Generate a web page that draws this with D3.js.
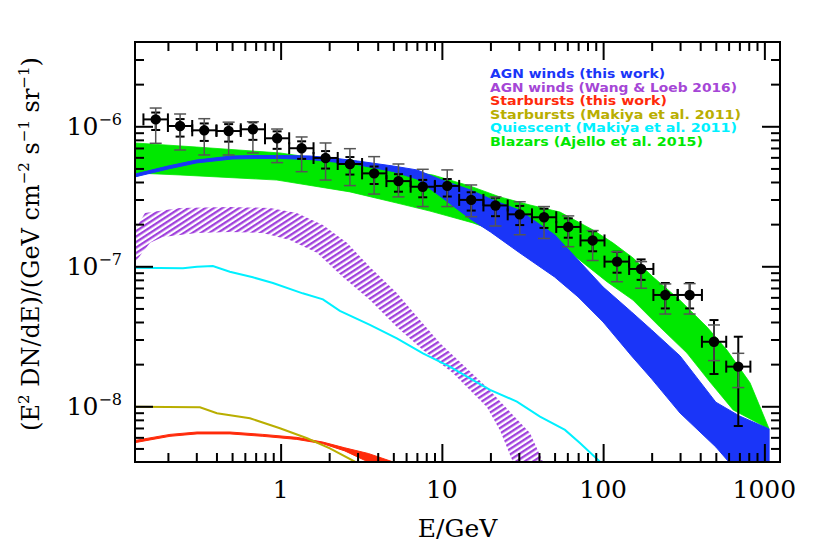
<!DOCTYPE html>
<html lang="en">
<head>
    <meta charset="utf-8" />
    <title>EGB components</title>
    <script src="https://cdn.jsdelivr.net/npm/d3@7"></script>
    <style>body { margin: 0; background: #fff; }</style>
</head>
<body>
<svg width="817" height="552"></svg>
<script>
    // Fermi IGRB data points (GeV, GeV cm^-2 s^-1 sr^-1)
    var dataE = [0.168, 0.238, 0.336, 0.476, 0.673, 0.951, 1.35, 1.90, 2.69, 3.80, 5.38, 7.61, 10.8, 15.2, 21.5, 30.4, 43.0, 60.8, 86.1, 122, 172, 243, 344, 487, 689];
    var binEdges = [0.141, 0.2, 0.283, 0.4, 0.566, 0.8, 1.13, 1.6, 2.26, 3.2, 4.53, 6.4, 9.05, 12.8, 18.1, 25.6, 36.2, 51.2, 72.4, 102, 145, 205, 290, 410, 580, 819];
    var dataF = [1.12e-6, 1.005e-6, 9.36e-7, 9.25e-7, 9.52e-7, 8.21e-7, 6.97e-7, 5.94e-7, 5.38e-7, 4.61e-7, 4.06e-7, 3.70e-7, 3.75e-7, 2.98e-7, 2.72e-7, 2.35e-7, 2.24e-7, 1.91e-7, 1.53e-7, 1.08e-7, 9.57e-8, 6.24e-8, 6.24e-8, 2.89e-8, 1.92e-8];
    var statLo = [9.41e-7, 8.44e-7, 7.86e-7, 7.77e-7, 8.0e-7, 6.9e-7, 5.85e-7, 4.99e-7, 4.52e-7, 3.87e-7, 3.41e-7, 3.11e-7, 3.15e-7, 2.5e-7, 2.28e-7, 1.97e-7, 1.88e-7, 1.6e-7, 1.28e-7, 0.90e-7, 0.80e-7, 0.50e-7, 0.50e-7, 1.70e-8, 7.23e-9];
    var statHi = [1.254e-6, 1.126e-6, 1.048e-6, 1.036e-6, 1.066e-6, 9.2e-7, 7.81e-7, 6.65e-7, 6.03e-7, 5.16e-7, 4.55e-7, 4.14e-7, 4.2e-7, 3.38e-7, 3.09e-7, 2.7e-7, 2.58e-7, 2.2e-7, 1.78e-7, 1.27e-7, 1.12e-7, 7.6e-8, 7.6e-8, 4.13e-8, 3.14e-8];
    var sysLo = [7.56e-7, 6.77e-7, 6.24e-7, 6.24e-7, 6.45e-7, 5.50e-7, 4.74e-7, 4.13e-7, 3.77e-7, 3.28e-7, 3.13e-7, 2.67e-7, 2.67e-7, 2.26e-7, 1.94e-7, 1.68e-7, 1.58e-7, 1.38e-7, 1.10e-7, 7.76e-8, 6.97e-8, 4.56e-8, 4.56e-8, 2.12e-8, 1.36e-8];
    var sysHi = [1.35e-6, 1.224e-6, 1.133e-6, 1.07e-6, 1.078e-6, 9.56e-7, 8.39e-7, 7.60e-7, 6.92e-7, 6.07e-7, 5.38e-7, 4.93e-7, 4.88e-7, 3.81e-7, 3.13e-7, 2.89e-7, 2.67e-7, 2.29e-7, 1.80e-7, 1.27e-7, 1.08e-7, 7.48e-8, 7.52e-8, 3.81e-8, 2.39e-8];

    // AGN winds (this work) band
    var agnE = [0.125, 0.2, 0.3, 0.5, 0.7, 1, 1.5, 2, 3, 5, 7, 10, 15, 20, 30, 50, 70, 100, 150, 200, 300, 500, 700, 1070];
    var agnHi = [4.56e-7, 5.20e-7, 5.74e-7, 6.14e-7, 6.18e-7, 6.18e-7, 6.14e-7, 5.98e-7, 5.65e-7, 5.20e-7, 4.88e-7, 4.13e-7, 3.51e-7, 3.03e-7, 2.52e-7, 1.68e-7, 1.11e-7, 7.11e-8, 4.72e-8, 3.51e-8, 2.29e-8, 1.07e-8, 8.53e-9, 6.89e-9];
    var agnLo = [4.35e-7, 4.95e-7, 5.47e-7, 5.84e-7, 5.89e-7, 5.89e-7, 5.79e-7, 5.61e-7, 5.32e-7, 4.75e-7, 4.20e-7, 3.10e-7, 2.18e-7, 1.76e-7, 1.26e-7, 8.39e-8, 6.04e-8, 4.00e-8, 2.29e-8, 1.57e-8, 8.95e-9, 5.12e-9, 3.28e-9, 2.52e-9];

    // AGN winds (Wang & Loeb 2016) band
    var wlHiE = [0.125, 0.144, 0.237, 0.485, 0.859, 1.26, 1.83, 2.58, 3.58, 5.26, 7.31, 9.72, 19.0, 35.2, 42.4, 50];
    var wlHi = [1.81e-7, 2.40e-7, 2.61e-7, 2.65e-7, 2.61e-7, 2.40e-7, 1.97e-7, 1.47e-7, 9.88e-8, 6.44e-8, 4.13e-8, 2.83e-8, 1.37e-8, 6.44e-9, 4.0e-9, 2.5e-9];
    var wlLoE = [0.125, 0.155, 0.186, 0.303, 0.485, 0.776, 1.14, 1.68, 2.43, 3.58, 5.26, 7.63, 11.7, 19.0, 22.9, 27.6, 32];
    var wlLo = [1.07e-7, 1.47e-7, 1.62e-7, 1.73e-7, 1.76e-7, 1.73e-7, 1.54e-7, 1.25e-7, 8.39e-8, 5.74e-8, 3.68e-8, 2.52e-8, 1.73e-8, 9.88e-9, 6.73e-9, 4.0e-9, 2.5e-9];

    // Starbursts (this work) band
    var sbE = [0.125, 0.206, 0.303, 0.485, 0.776, 1.26, 1.83, 2.5, 3.5, 5.0];
    var sbHi = [5.7e-9, 6.3e-9, 6.55e-9, 6.55e-9, 6.3e-9, 6.0e-9, 5.55e-9, 5.05e-9, 4.6e-9, 4.0e-9];
    var sbLo = [5.5e-9, 6.1e-9, 6.35e-9, 6.35e-9, 6.1e-9, 5.8e-9, 5.4e-9, 4.8e-9, 4.0e-9, 3.0e-9];

    // Starbursts (Makiya et al. 2011)
    var sbmE = [0.125, 0.316, 0.403, 0.645, 0.99, 1.46, 2.02, 2.89];
    var sbmF = [9.93e-9, 9.84e-9, 8.91e-9, 8.21e-9, 6.97e-9, 5.91e-9, 5.01e-9, 4.02e-9];

    // Quiescent (Makiya et al. 2011)
    var qE = [0.125, 0.248, 0.303, 0.380, 0.484, 0.673, 0.896, 1.37, 1.83, 2.33, 3.58, 5.26, 7.63, 11.2, 15.6, 19.9, 29.2, 40.6, 58.0, 71.8, 95.5];
    var qF = [9.77e-8, 9.68e-8, 9.93e-8, 1.005e-7, 9.14e-8, 8.34e-8, 7.60e-8, 6.41e-8, 5.81e-8, 4.80e-8, 3.81e-8, 3.06e-8, 2.39e-8, 1.92e-8, 1.54e-8, 1.31e-8, 1.08e-8, 8.43e-9, 6.78e-9, 5.47e-9, 4.02e-9];

    // Blazars (Ajello et al. 2015) band
    var blzHiE = [0.125, 0.3, 0.99, 2.69, 5.49, 8.79, 14.9, 22.9, 35.2, 54.0, 86.4, 115, 153, 204, 299, 441, 586, 815, 1070];
    var blzHi = [7.60e-7, 7.11e-7, 6.45e-7, 5.47e-7, 4.88e-7, 4.49e-7, 3.75e-7, 3.13e-7, 2.74e-7, 2.44e-7, 1.82e-7, 1.47e-7, 1.15e-7, 8.39e-8, 5.74e-8, 3.68e-8, 2.52e-8, 1.47e-8, 6.89e-9];
    var blzLoE = [0.125, 0.238, 0.948, 2.69, 5.26, 8.43, 15.6, 30.5, 65.0, 106, 153, 225, 331, 460, 640, 1070];
    var blzLo = [4.64e-7, 4.49e-7, 4.13e-7, 3.40e-7, 2.83e-7, 2.48e-7, 2.04e-7, 1.54e-7, 1.21e-7, 7.73e-8, 5.74e-8, 3.68e-8, 2.40e-8, 1.49e-8, 9.42e-9, 6.89e-9];

    var xMajor = [1, 10, 100, 1000];
    var xLabels = ["1", "10", "100", "1000"];
    var yMajor = [1e-8, 1e-7, 1e-6];
    var yLabels = ["\u22128", "\u22127", "\u22126"];

    var legendNames = ["AGN winds (this work)", "AGN winds (Wang & Loeb 2016)", "Starbursts (this work)",
        "Starbursts (Makiya et al. 2011)", "Quiescent (Makiya et al. 2011)", "Blazars (Ajello et al. 2015)"];
    var legendColors = ["#1a35f8", "#a546d6", "#ff2a0a", "#b9ae00", "#00f0ff", "#00e800"];

    var svg = d3.select("svg");
    var pLeft = 135, pRight = 780, pTop = 42, pBottom = 462;

    var x = d3.scaleLog().domain([0.125, 1250]).range([pLeft, pRight]);
    var y = d3.scaleLog().domain([4e-9, 4e-6]).range([pBottom, pTop]);

    var defs = svg.append("defs");
    defs.append("clipPath").attr("id", "plot")
        .append("rect").attr("x", pLeft).attr("y", pTop)
        .attr("width", pRight - pLeft).attr("height", pBottom - pTop);

    // diagonal hatching for the Wang & Loeb band
    var hatch = defs.append("pattern").attr("id", "hatch")
        .attr("patternUnits", "userSpaceOnUse")
        .attr("width", 10).attr("height", 4.6)
        .attr("patternTransform", "rotate(-33)");
    hatch.append("rect").attr("width", 10).attr("height", 2.3).attr("fill", "#a040dc");

    var g = svg.append("g").attr("clip-path", "url(#plot)");

    var line = d3.line().x(function (d) { return x(d[0]); }).y(function (d) { return y(d[1]); });

    // closed polygon from an upper and a lower edge
    function band(hiE, hi, loE, lo) {
        var pts = hiE.map(function (e, i) { return [e, hi[i]]; });
        var back = loE.map(function (e, i) { return [e, lo[i]]; }).reverse();
        return line(pts.concat(back)) + "Z";
    }
    function pairs(e, f) {
        return e.map(function (v, i) { return [v, f[i]]; });
    }

    // blazars
    g.append("path").attr("d", band(blzHiE, blzHi, blzLoE, blzLo))
        .attr("fill", legendColors[5]).attr("stroke", legendColors[5]).attr("stroke-width", 0.8);
    // AGN winds (this work)
    g.append("path").attr("d", band(agnE, agnHi, agnE, agnLo))
        .attr("fill", legendColors[0]).attr("stroke", legendColors[0]).attr("stroke-width", 1);
    // Wang & Loeb hatched band
    g.append("path").attr("d", band(wlHiE, wlHi, wlLoE, wlLo))
        .attr("fill", "url(#hatch)");
    // quiescent
    g.append("path").attr("d", line(pairs(qE, qF)))
        .attr("fill", "none").attr("stroke", legendColors[4]).attr("stroke-width", 2);
    // starbursts this work
    g.append("path").attr("d", band(sbE, sbHi, sbE, sbLo))
        .attr("fill", legendColors[2]).attr("stroke", legendColors[2]).attr("stroke-width", 1);
    // starbursts Makiya
    g.append("path").attr("d", line(pairs(sbmE, sbmF)))
        .attr("fill", "none").attr("stroke", legendColors[3]).attr("stroke-width", 2);

    // data points
    var pts = svg.append("g").attr("clip-path", "url(#plot)");
    dataE.forEach(function (e, i) {
        var cx = x(e), cy = y(dataF[i]);
        // statistical (black)
        pts.append("line").attr("x1", cx).attr("x2", cx).attr("y1", y(statLo[i])).attr("y2", y(statHi[i]))
            .attr("stroke", "#000").attr("stroke-width", 2);
        [statLo[i], statHi[i]].forEach(function (v) {
            pts.append("line").attr("x1", cx - 4.5).attr("x2", cx + 4.5).attr("y1", y(v)).attr("y2", y(v))
                .attr("stroke", "#000").attr("stroke-width", 2);
        });
        // systematic (grey)
        pts.append("line").attr("x1", cx).attr("x2", cx).attr("y1", y(sysLo[i])).attr("y2", y(sysHi[i]))
            .attr("stroke", "#555").attr("stroke-width", 1.5);
        [sysLo[i], sysHi[i]].forEach(function (v) {
            pts.append("line").attr("x1", cx - 6).attr("x2", cx + 6).attr("y1", y(v)).attr("y2", y(v))
                .attr("stroke", "#555").attr("stroke-width", 1.5);
        });
        // energy bin
        var x0 = x(binEdges[i]), x1 = x(binEdges[i + 1]);
        pts.append("line").attr("x1", x0).attr("x2", x1).attr("y1", cy).attr("y2", cy)
            .attr("stroke", "#000").attr("stroke-width", 2);
        [x0, x1].forEach(function (xx) {
            pts.append("line").attr("x1", xx).attr("x2", xx).attr("y1", cy - 6).attr("y2", cy + 6)
                .attr("stroke", "#000").attr("stroke-width", 2);
        });
        pts.append("circle").attr("cx", cx).attr("cy", cy).attr("r", 5.2).attr("fill", "#000");
    });

    // axes: ticks point inward on all four sides
    var xMinor = x.ticks().filter(function (v) { return xMajor.indexOf(v) < 0; });
    var yMinor = y.ticks().filter(function (v) { return yMajor.indexOf(v) < 0 && v > 4.01e-9 && v < 3.99e-6; });

    function drawAxis(axis, tx, ty) {
        var a = svg.append("g").attr("transform", "translate(" + tx + "," + ty + ")").call(axis);
        a.select(".domain").remove();
        a.selectAll("line").attr("stroke-width", 2);
        a.selectAll("text").remove();
    }
    [[xMajor, 18], [xMinor, 9]].forEach(function (t) {
        drawAxis(d3.axisBottom(x).tickValues(t[0]).tickSize(-t[1]), 0, pBottom);
        drawAxis(d3.axisTop(x).tickValues(t[0]).tickSize(-t[1]), 0, pTop);
    });
    [[yMajor, 18], [yMinor, 9]].forEach(function (t) {
        drawAxis(d3.axisLeft(y).tickValues(t[0]).tickSize(-t[1]), pLeft, 0);
        drawAxis(d3.axisRight(y).tickValues(t[0]).tickSize(-t[1]), pRight, 0);
    });

    svg.append("rect").attr("x", pLeft).attr("y", pTop)
        .attr("width", pRight - pLeft).attr("height", pBottom - pTop)
        .attr("fill", "none").attr("stroke", "#000").attr("stroke-width", 2);

    var serif = "'DejaVu Serif', serif";

    // tick labels
    svg.selectAll(".xl").data(xMajor).enter().append("text")
        .attr("x", function (d) { return x(d); }).attr("y", 498)
        .attr("text-anchor", "middle").attr("font-family", serif).attr("font-size", 25)
        .text(function (d, i) { return xLabels[i]; });

    yMajor.forEach(function (v, i) {
        var t = svg.append("text").attr("x", 122).attr("y", y(v) + 9)
            .attr("text-anchor", "end").attr("font-family", serif).attr("font-size", 25);
        t.append("tspan").text("10");
        t.append("tspan").attr("dy", -10).attr("font-size", 16).text(yLabels[i]);
    });

    // axis titles
    svg.append("text").attr("x", (pLeft + pRight) / 2).attr("y", 537)
        .attr("text-anchor", "middle").attr("font-family", serif).attr("font-size", 25)
        .text("E/GeV");

    var yt = svg.append("text").attr("transform", "translate(39,244) rotate(-90)")
        .attr("text-anchor", "middle").attr("font-family", serif).attr("font-size", 24);
    var parts = [["(E", 0], ["2", 1], [" DN/dE)/(GeV cm", 0], ["\u22122", 1], [" s", 0], ["\u22121", 1], [" sr", 0], ["\u22121", 1], [")", 0]];
    var up = false;
    parts.forEach(function (p) {
        var s = yt.append("tspan").text(p[0]);
        if (p[1] && !up) { s.attr("dy", -10).attr("font-size", 15); up = true; }
        else if (p[1]) { s.attr("font-size", 15); }
        else if (up) { s.attr("dy", 10); up = false; }
    });

    // legend
    var legendWidths = [175, 247, 177, 251, 247, 213];
    legendNames.forEach(function (name, i) {
        svg.append("text").attr("x", 490).attr("y", 78 + i * 13.6)
            .attr("font-family", "'DejaVu Sans', sans-serif").attr("font-weight", "bold")
            .attr("font-size", 13).attr("fill", legendColors[i])
            .attr("textLength", legendWidths[i]).attr("lengthAdjust", "spacingAndGlyphs")
            .text(name);
    });
</script>
</body>
</html>
